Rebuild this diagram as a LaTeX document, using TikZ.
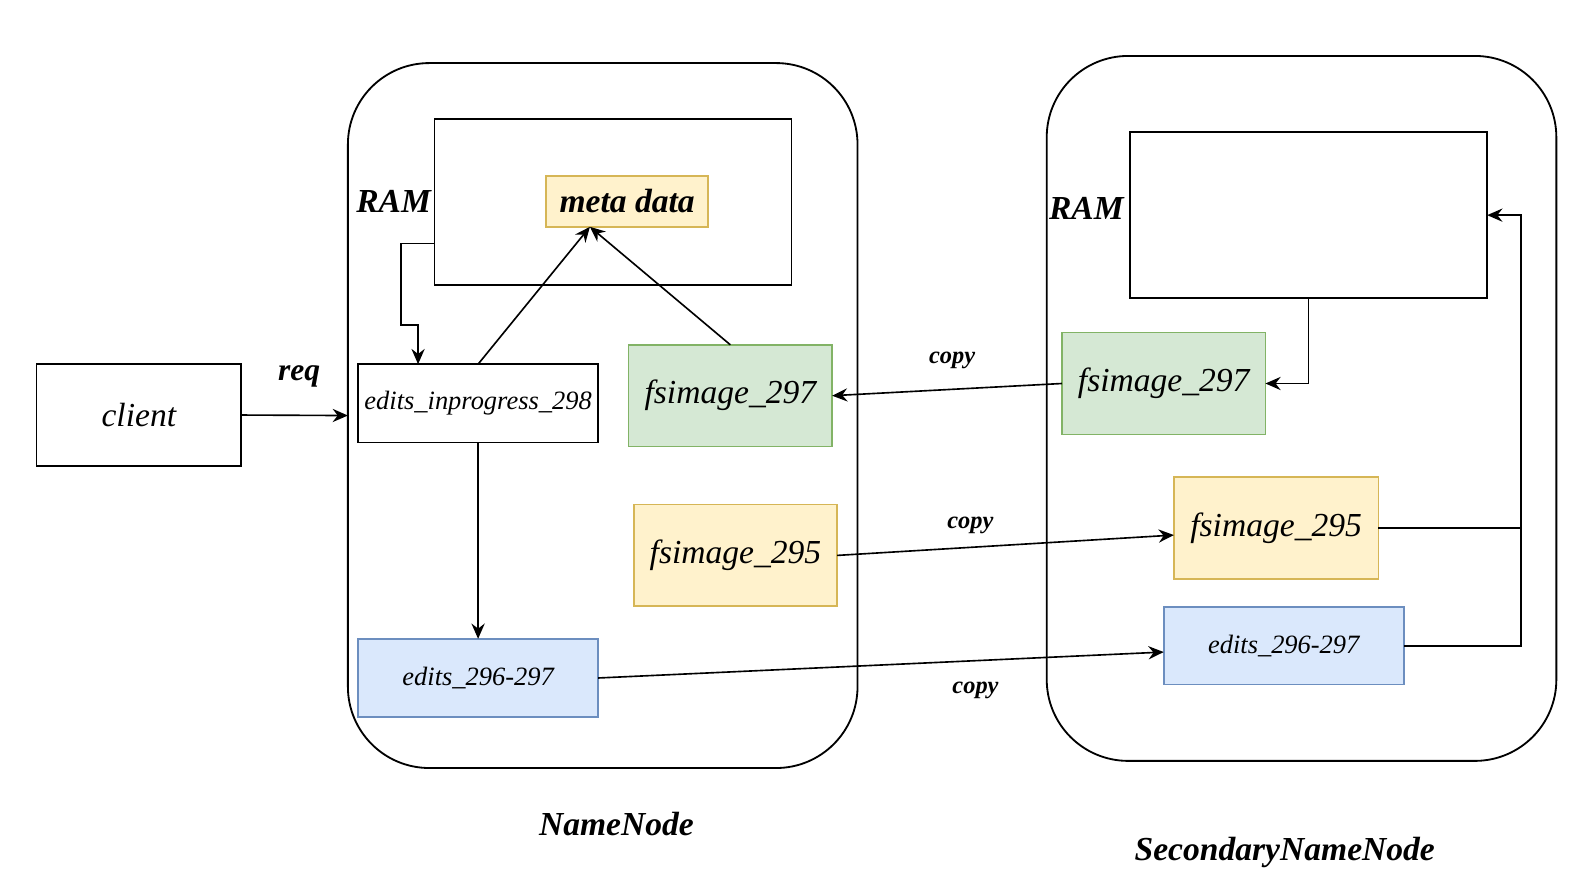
\documentclass[tikz,border=0pt]{standalone}
\usepackage{fontspec}
\setmainfont{Liberation Serif}
\usetikzlibrary{arrows.meta,calc}
\definecolor{gfill}{HTML}{D5E8D4}
\definecolor{gline}{HTML}{82B366}
\definecolor{yfill}{HTML}{FFF2CC}
\definecolor{yline}{HTML}{D6B656}
\definecolor{bfill}{HTML}{DAE8FC}
\definecolor{bline}{HTML}{6C8EBF}
\begin{document}
\begin{tikzpicture}[x=1pt,y=-1pt,
  base/.style={line width=1.6pt, inner sep=0pt, outer sep=0pt},
  plainbox/.style={base, draw=black, fill=white},
  gbox/.style={base, draw=gline, fill=gfill},
  ybox/.style={base, draw=yline, fill=yfill},
  bbox/.style={base, draw=bline, fill=bfill},
  container/.style={base, line width=1.8pt, draw=black, rounded corners=80pt},
  big/.style={font=\fontsize{33}{36}\selectfont\itshape},
  small/.style={font=\fontsize{26}{30}\selectfont\itshape},
  bold/.style={font=\fontsize{33}{36}\selectfont\bfseries\itshape},
  cp/.style={font=\fontsize{24}{28}\selectfont\bfseries\itshape},
  rq/.style={font=\fontsize{31}{34}\selectfont\bfseries\itshape},
  conn/.style={line width=1.6pt, -{Stealth[length=15pt,width=13pt,inset=5pt]}},
  wire/.style={line width=1.6pt}
]
\fill[white] (0,0) rectangle (1568,876);
\useasboundingbox (0,0) rectangle (1568,876);

% containers
\node[container, minimum width=501pt, minimum height=693pt] (nn) at (592.5,408.5) {};
\node[container, minimum width=501pt, minimum height=693pt] (snn) at (1279.5,401.5) {};

% NameNode side
\node[plainbox, minimum width=201pt, minimum height=100pt, big] (client) at (136.5,408) {client};
\node[plainbox, minimum width=351pt, minimum height=163pt] (ram1) at (602.5,198.5) {};
\node[ybox, minimum width=159pt, minimum height=50pt, bold] (meta) at (616.5,198) {meta data};
\node[plainbox, minimum width=236pt, minimum height=77pt, small] (eip) at (470,396.5) {edits\_inprogress\_298};
\node[gbox, minimum width=200pt, minimum height=100pt, big] (fsL) at (718,389) {fsimage\_297};
\node[ybox, minimum width=200pt, minimum height=100pt, big] (fsfL) at (723,546) {fsimage\_295};
\node[bbox, minimum width=236pt, minimum height=77pt, small] (edL) at (470,666.5) {edits\_296-297};

% SecondaryNameNode side
\node[plainbox, minimum width=351pt, minimum height=163pt] (ram2) at (1286.5,211.5) {};
\node[gbox, minimum width=200pt, minimum height=100pt, big] (fsR) at (1144,377) {fsimage\_297};
\node[ybox, minimum width=201pt, minimum height=100pt, big] (fsfR) at (1254.5,519) {fsimage\_295};
\node[bbox, minimum width=236pt, minimum height=76pt, small] (edR) at (1262,635) {edits\_296-297};

% labels
\node[bold] (ramlab1) at (387,198) {RAM};
\node[bold] (ramlab2) at (1068,205) {RAM};
\node[rq] (req) at (294,370) {req};
\node[cp] (cp1) at (936,354) {copy};
\node[cp] (cp2) at (954,516) {copy};
\node[cp] (cp3) at (959,679) {copy};
\node[bold] (nnlab) at (606,810) {NameNode};
\node[bold] (snnlab) at (1263,838) {SecondaryNameNode};

% helper coordinates on node borders
\coordinate (ramL) at ($(ram1.north west)!0.75!(ram1.south west)$);
\coordinate (eipA) at ($(eip.north west)!0.25!(eip.north east)$);
\coordinate (metaA) at ($(meta.south west)!0.27!(meta.south east)$);

% connectors
\draw[conn] (client.east) -- (nn.west);
\draw[conn] (ramL) -- ++(-33,0) -- ++(0,80) -| (eipA);
\draw[conn] (eip.north) -- (metaA);
\draw[conn] (fsL.north) -- (metaA);
\draw[conn] (eip.south) -- (edL.north);
\draw[conn] (fsR.west) -- (fsL.east);
\draw[conn] (fsfL.east) -- ($(fsfR.west)+(0,7)$);
\draw[conn] (edL.east) -- ($(edR.west)+(0,6)$);
\draw[conn] (ram2.south) |- (fsR.east);
\draw[wire] (fsfR.east) -- ++(140,0);
\draw[conn] (edR.east) -- ++(115,0) |- (ram2.east);
\end{tikzpicture}
\end{document}
